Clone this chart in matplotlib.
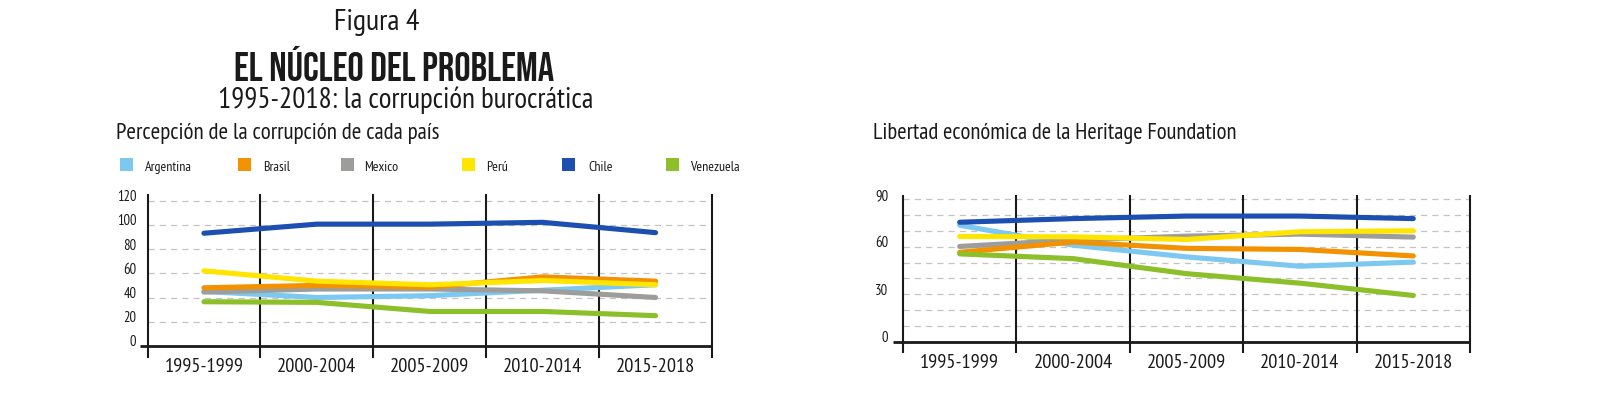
import matplotlib
matplotlib.use("Agg")
import matplotlib.pyplot as plt
from matplotlib.patches import Rectangle
import matplotlib.transforms as mtransforms
import numpy as np

# ---------------- data ----------------
periods = ["1995-1999", "2000-2004", "2005-2009", "2010-2014", "2015-2018"]
countries = ["Argentina", "Brasil", "Mexico", "Perú", "Chile", "Venezuela"]
colors = ["#7dc8f0", "#f39200", "#9d9d9c", "#ffe500", "#1d4fb0", "#8dbf2a"]

# Percepción de la corrupción
corr_argentina = [45, 40, 41.5, 46, 50.5]
corr_brasil = [48, 50, 48.5, 57, 53.5]
corr_mexico = [44.5, 47, 47, 45.5, 40]
corr_peru = [62, 53.5, 50.5, 54, 50.5]
corr_chile = [93, 100.5, 100.5, 102, 93.5]
corr_venezuela = [36.5, 36, 28.5, 28.5, 25]

# Libertad económica (Heritage Foundation)
lib_argentina = [73.6, 61, 53.6, 47.7, 50.3]
lib_brasil = [56.5, 63, 59, 58.3, 54.2]
lib_mexico = [60.2, 64.2, 66.7, 68, 66.1]
lib_peru = [66.5, 66.3, 64.6, 69.5, 70.1]
lib_chile = [75.5, 77.8, 79.4, 79.4, 77.8]
lib_venezuela = [55.5, 52.5, 43, 37, 29.2]

corr_ticks = [0, 20, 40, 60, 80, 100, 120]
corr_grid = [20, 40, 60, 80, 100, 120]
lib_ticks = [0, 30, 60, 90]
lib_grid = [10, 20, 30, 40, 50, 60, 70, 80, 90]

corr_series = [corr_argentina, corr_brasil, corr_mexico, corr_peru, corr_chile, corr_venezuela]
lib_series = [lib_argentina, lib_brasil, lib_mexico, lib_peru, lib_chile, lib_venezuela]
zorders = [3.0, 3.2, 3.1, 3.4, 3.5, 3.3]

FONT = ["PT Sans Narrow", "Roboto Condensed", "DejaVu Sans"]
FONT_TITLE = ["Bebas Neue", "Oswald", "PT Sans Narrow", "DejaVu Sans"]
TXT = "#1a1a1a"

W, H = 1599, 393
fig = plt.figure(figsize=(W / 100, H / 100), dpi=100)
fig.canvas.draw()
renderer = fig.canvas.get_renderer()


def px_axes(l, r, top, bottom):
    return fig.add_axes([l / W, 1 - bottom / H, (r - l) / W, (bottom - top) / H])


def draw_panel(ax, series, ymax, ticks, grid, vext_top, vext_bot, zero_ext, lab_dx):
    n = len(periods)
    x = np.arange(n) + 0.5
    ax.set_xlim(0, n)
    ax.set_ylim(0, ymax)
    ax.axis("off")
    for g in grid:
        ax.plot([0, n], [g, g], color="#c4c4c4", lw=0.9, ls=(0, (5, 4)), zorder=1,
                clip_on=False)
    ax.vlines(np.arange(n + 1), -vext_bot, ymax + vext_top, color="#1a1a1a", lw=1.5,
              zorder=2, clip_on=False)
    ax.plot([-zero_ext, n], [0, 0], color="#1a1a1a", lw=2.0, zorder=2, clip_on=False,
            solid_capstyle="butt")
    for vals, c, z in zip(series, colors, zorders):
        ax.plot(x, vals, color=c, lw=3.7, solid_capstyle="round",
                solid_joinstyle="round", zorder=z, clip_on=False)
    off = mtransforms.ScaledTranslation(lab_dx / 100, 3.5 / 100, fig.dpi_scale_trans)
    for t in ticks:
        ax.text(0, t, str(t), transform=ax.transData + off, ha="right", va="center",
                fontsize=10.5, family=FONT, color=TXT)
    off2 = mtransforms.ScaledTranslation(0, -21 / 100, fig.dpi_scale_trans)
    for xi, p in zip(x, periods):
        ax.text(xi, 0, p, transform=ax.transData + off2, ha="center", va="center",
                fontsize=14.7, family=FONT, color=TXT)


ax1 = px_axes(147.5, 712, 200.5, 346)
draw_panel(ax1, corr_series, 120, corr_ticks, corr_grid, 5.3, 10, 0.07, -11)

ax2 = px_axes(903, 1470, 199.3, 341.7)
draw_panel(ax2, lib_series, 90, lib_ticks, lib_grid, 2.7, 7.1, 0.09, -15)


def ftext(xp, yp, s, target_w=None, fontsize=12, family=FONT, **kw):
    t = fig.text(xp / W, 1 - yp / H, s, family=family, color=TXT, fontsize=fontsize, **kw)
    if target_w is not None:
        w = t.get_window_extent(renderer).width
        if w > 0:
            t.set_fontsize(fontsize * target_w / w)
    return t


ftext(377, 22, "Figura 4", target_w=86, fontsize=17, ha="center", va="center")
ftext(394, 63, "EL NÚCLEO DEL PROBLEMA", target_w=322, fontsize=24, family=FONT_TITLE,
      fontweight="bold", ha="center", va="center")
ftext(406, 100, "1995-2018: la corrupción burocrática", target_w=376, fontsize=18,
      ha="center", va="center")
ftext(116, 133, "Percepción de la corrupción de cada país", target_w=324, fontsize=15,
      ha="left", va="center")
ftext(873, 133, "Libertad económica de la Heritage Foundation", target_w=362, fontsize=15,
      ha="left", va="center")

# legend
sq_x = [120, 238, 341, 462, 562, 666]
tx_x = [145, 263, 364, 486, 588, 690]
sq = 13
for sx, tx, c, name in zip(sq_x, tx_x, colors, countries):
    fig.add_artist(Rectangle((sx / W, 1 - (165 + sq / 2) / H), sq / W, sq / H,
                             transform=fig.transFigure, color=c, lw=0))
    ftext(tx, 167, name, fontsize=10, ha="left", va="center")

fig.savefig("out.png", dpi=100)
